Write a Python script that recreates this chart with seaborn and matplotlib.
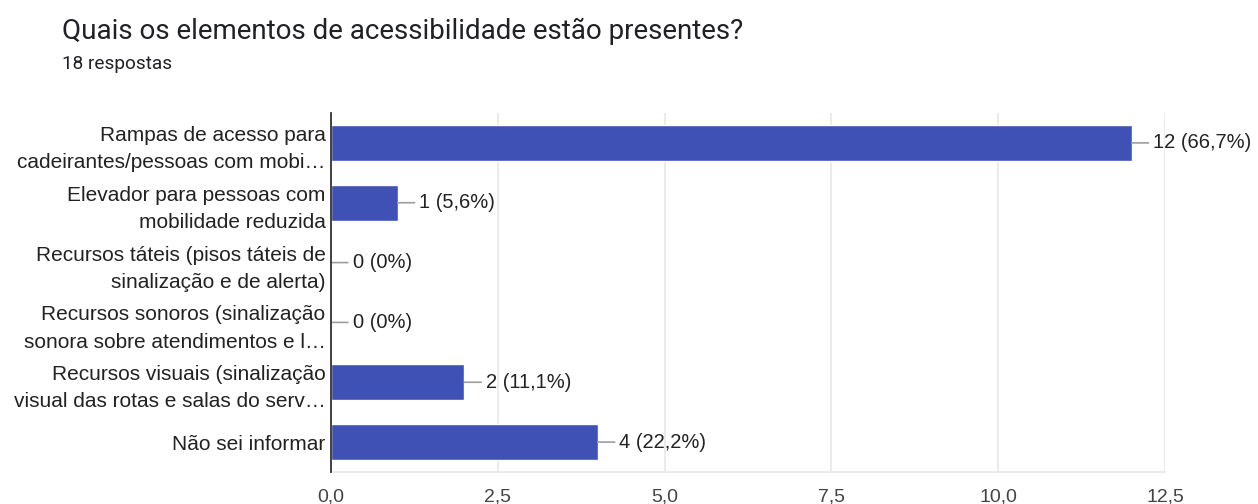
import matplotlib
matplotlib.use("Agg")
import matplotlib.pyplot as plt
import seaborn as sns
import pandas as pd

# Survey answers: accessibility elements present
categories = [
    "Rampas de acesso para\ncadeirantes/pessoas com mobi…",
    "Elevador para pessoas com\nmobilidade reduzida",
    "Recursos táteis (pisos táteis de\nsinalização e de alerta)",
    "Recursos sonoros (sinalização\nsonora sobre atendimentos e l…",
    "Recursos visuais (sinalização\nvisual das rotas e salas do serv…",
    "Não sei informar",
]
counts = [12, 1, 0, 0, 2, 4]
value_labels = ["12 (66,7%)", "1 (5,6%)", "0 (0%)", "0 (0%)", "2 (11,1%)", "4 (22,2%)"]
x_ticks = [0.0, 2.5, 5.0, 7.5, 10.0, 12.5]
x_tick_labels = ["0,0", "2,5", "5,0", "7,5", "10,0", "12,5"]

title = "Quais os elementos de acessibilidade estão presentes?"
subtitle = "18 respostas"

df = pd.DataFrame({"categoria": categories, "respostas": counts})

sns.set_theme(style="white")
plt.rcParams["font.family"] = ["Liberation Sans", "DejaVu Sans"]

fig = plt.figure(figsize=(12.58, 5.04), dpi=100)
ax = fig.add_axes([0.2631, 0.0635, 0.6630, 0.7123])

bar_color = "#3f51b5"
sns.barplot(data=df, x="respostas", y="categoria", orient="h",
            color=bar_color, width=0.6, saturation=1, ax=ax, zorder=3)

ax.set_xlim(0, 12.5)
ax.set_ylim(5.5, -0.5)
ax.set_xticks(x_ticks)
ax.set_xticklabels(x_tick_labels, fontsize=14, color="#444444")
ax.tick_params(axis="x", length=0, pad=12)
ax.tick_params(axis="y", length=0, pad=4)
ax.set_yticks(range(len(categories)))
ax.set_yticklabels(categories, fontsize=15, color="#222222",
                   linespacing=1.55, ha="right")
ax.set_xlabel("")
ax.set_ylabel("")

ax.grid(axis="x", color="#e8e8e8", linewidth=1.2, zorder=0)
ax.grid(axis="y", visible=False)
for side in ["top", "right"]:
    ax.spines[side].set_visible(False)
ax.spines["bottom"].set_color("#e8e8e8")
ax.spines["bottom"].set_linewidth(1.2)
ax.spines["left"].set_color("#333333")
ax.spines["left"].set_linewidth(1.3)
ax.spines["left"].set_zorder(5)

# Value labels with short leader lines
for i, (v, txt) in enumerate(zip(counts, value_labels)):
    ax.annotate(txt, xy=(v, i), xytext=(15.5, 0), textcoords="offset points",
                ha="left", va="center", fontsize=14.5, color="#222222",
                arrowprops=dict(arrowstyle="-", color="#9e9e9e", lw=1.2,
                                shrinkA=1, shrinkB=0),
                annotation_clip=False, zorder=4)

fig.text(0.049, 0.937, title, fontsize=20, family=["Roboto", "DejaVu Sans"],
         color="#202124", ha="left", va="center")
fig.text(0.049, 0.873, subtitle, fontsize=13.7, family=["Roboto", "DejaVu Sans"],
         color="#202124", ha="left", va="center")

fig.savefig("out.png", dpi=100)
